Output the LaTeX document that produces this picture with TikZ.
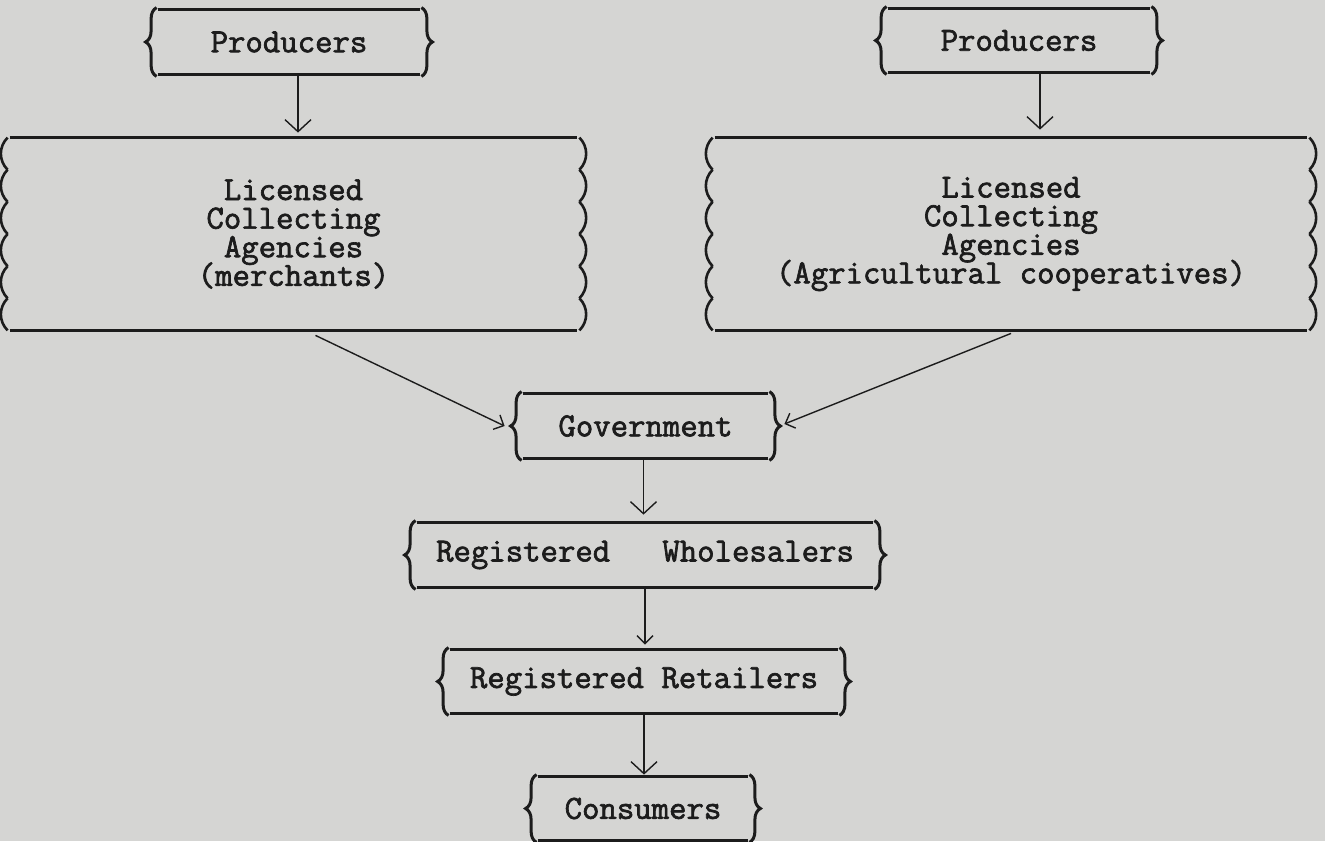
\documentclass[tikz,border=0pt]{standalone}
\usepackage{fontspec}
\newfontfamily\tw[FakeBold=2]{Latin Modern Mono}
\usetikzlibrary{decorations.pathreplacing,arrows.meta,calc}
\definecolor{paper}{RGB}{213,213,211}
\definecolor{ink}{RGB}{28,28,28}
\newcommand{\tightls}{\lineskiplimit=-20pt\relax}
\tikzset{
  txt/.style={font=\tw\fontsize{16.9}{14.3}\selectfont\tightls, text=ink, align=center, inner sep=0pt},
  rule/.style={ink, line width=1.5pt},
  brc/.style={ink, line width=1.5pt, decorate, decoration={brace, amplitude=5.5pt}},
  side/.style={ink, line width=1.3pt},
  arr/.style={ink, line width=0.7pt, -{Straight Barb[length=6pt,width=13pt]}},
  arrs/.style={ink, line width=0.7pt, -{Straight Barb[length=4pt,width=8pt]}},
}
% small box: name, left, right, top, bottom, text
\newcommand{\tbox}[6]{%
  \node[txt, minimum width={(#3-#2)*0.5pt}, minimum height={(#5-#4)*0.5pt}] (#1) at ({(#2+#3)/2},{(#4+#5)/2}) {#6};
  \draw[rule] (#1.north west) -- (#1.north east) (#1.south west) -- (#1.south east);
  \draw[brc] ([xshift=-0.5pt,yshift=-1pt]#1.south west) -- ([xshift=-0.5pt,yshift=1pt]#1.north west);
  \draw[brc] ([xshift=0.5pt,yshift=1pt]#1.north east) -- ([xshift=0.5pt,yshift=-1pt]#1.south east);
}
% big box with wavy sides
\newcommand{\bbox}[6]{%
  \node[txt, minimum width={(#3-#2)*0.5pt}, minimum height={(#5-#4)*0.5pt}] (#1) at ({(#2+#3)/2},{(#4+#5)/2}) {#6};
  \draw[rule] (#1.north west) -- (#1.north east) (#1.south west) -- (#1.south east);
  \foreach \i [evaluate=\i as \j using \i-1] in {1,...,6}{
    \draw[side] ($([xshift=-1pt]#1.north west)!\j/6!([xshift=-1pt]#1.south west)$)
      .. controls +(-9,9) and +(-9,-9) .. ($([xshift=-1pt]#1.north west)!\i/6!([xshift=-1pt]#1.south west)$);
    \draw[side] ($([xshift=1pt]#1.north east)!\j/6!([xshift=1pt]#1.south east)$)
      .. controls +(9,9) and +(9,-9) .. ($([xshift=1pt]#1.north east)!\i/6!([xshift=1pt]#1.south east)$);
  }
}
\begin{document}
\begin{tikzpicture}[x=0.5pt, y=-0.5pt]
\fill[paper] (0,0) rectangle (1325,841);
\useasboundingbox (0,0) rectangle (1325,841);

\tbox{p1}{158}{420}{10}{74}{Producers}
\tbox{p2}{888}{1150}{9}{72}{Producers}
\bbox{la}{10}{577}{138}{330}{Licensed\\Collecting\\Agencies\\(merchants)}
\bbox{ra}{715}{1307}{138}{330}{Licensed\\Collecting\\Agencies\\(Agricultural cooperatives)}
\tbox{gov}{523}{768}{394}{458}{Government}
\tbox{wh}{417}{873}{523}{587}{Registered~~~Wholesalers}
\tbox{ret}{450}{838}{650}{713}{Registered Retailers}
\tbox{con}{538}{748}{777}{840}{Consumers}

\draw[arr, shorten >=2.5pt] ([xshift=4.5pt]p1.south) -- ([xshift=4.5pt]p1.south |- la.north);
\draw[arr, shorten >=4pt] ([xshift=10.5pt]p2.south) -- ([xshift=10.5pt]p2.south |- ra.north);
\draw[arrs] ([xshift=11pt,yshift=-2.5pt]la.south) -- ([xshift=-9pt]gov.west);
\draw[arrs] ([yshift=-1.5pt]ra.south) -- ([xshift=8pt,yshift=1pt]gov.east);
\draw[arr, shorten >=4pt] ([xshift=-1pt]gov.south) -- ([xshift=-1pt]gov.south |- wh.north);
\draw[arrs, shorten >=2.5pt] (wh.south) -- (wh.south |- ret.north);
\draw[arr, shorten >=1pt] (ret.south) -- (ret.south |- con.north);
\end{tikzpicture}
\end{document}
